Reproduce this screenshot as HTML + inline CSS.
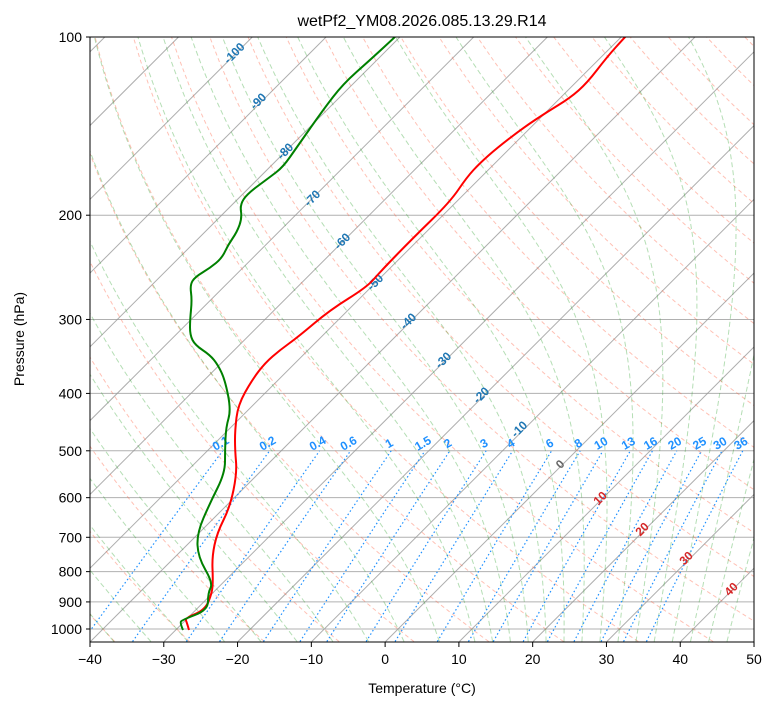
<!DOCTYPE html>
<html><head><meta charset="utf-8"><style>
html,body{margin:0;padding:0;background:#fff;}
svg{display:block;font-family:"Liberation Sans","DejaVu Sans",sans-serif;}
</style></head><body>
<svg id="s" width="775" height="708" viewBox="0 0 775 708" xmlns="http://www.w3.org/2000/svg">
<defs><clipPath id="c"><rect x="90" y="37" width="664" height="605"/></clipPath></defs>
<rect width="775" height="708" fill="#fff"/>
<g id="bg" clip-path="url(#c)"></g>
<g id="fg" clip-path="url(#c)"></g>
<rect x="90" y="37" width="664" height="605" fill="none" stroke="#000" stroke-width="1"/>
<g id="ax" font-size="14" fill="#000"></g>
<text x="422" y="26" font-size="16" text-anchor="middle">wetPf2_YM08.2026.085.13.29.R14</text>
<text x="422" y="693" font-size="14" text-anchor="middle">Temperature (°C)</text>
<text transform="translate(24,339) rotate(-90)" font-size="14" text-anchor="middle">Pressure (hPa)</text>
</svg>
<script>
var NS="http://www.w3.org/2000/svg";
function el(par,tag,a,txt){var e=document.createElementNS(NS,tag);for(var k in a)e.setAttribute(k,a[k]);if(txt!==undefined)e.textContent=txt;document.getElementById(par).appendChild(e);return e;}
function Y(p){return 37+592*(Math.log10(p)-2);}
function X(T,p){var y=Y(p);return 90+(T+40)*7.378+(642-y);}
function path(pts){return pts.map(function(q,i){return (i?"L":"M")+q[0].toFixed(1)+","+q[1].toFixed(1);}).join("");}
[100,200,300,400,500,600,700,800,900,1000].forEach(function(p){
 el("bg","line",{x1:90,x2:754,y1:Y(p),y2:Y(p),stroke:"#b0b0b0","stroke-width":1});
 el("ax","line",{x1:86,x2:90,y1:Y(p),y2:Y(p),stroke:"#000"});
 el("ax","text",{x:82,y:Y(p)+5,"text-anchor":"end"},String(p));
});
for(var T=-40;T<=50;T+=10){var x=90+(T+40)*7.378;
 el("ax","line",{x1:x,x2:x,y1:642,y2:647,stroke:"#000"});
 el("ax","text",{x:x,y:664,"text-anchor":"middle"},(T<0?"\u2212"+(-T):String(T)));}
for(var T=-140;T<=60;T+=10){el("bg","path",{d:path([[X(T,1050),Y(1050)],[X(T,100),Y(100)]]),stroke:"#999",fill:"none","stroke-width":1,opacity:0.8});}
for(var t0=-50;t0<=200;t0+=10){var pts=[];for(var p=1050;p>=100;p-=10){var Tk=(t0+273.15)*Math.pow(p/1000,0.2857);pts.push([X(Tk-273.15,p),Y(p)]);}
 el("bg","path",{d:path(pts),stroke:"#ff6347",fill:"none","stroke-width":1,"stroke-dasharray":"4,3",opacity:0.4});}
function dTdp(p,T){var Tc=T-273.15;var es=6.112*Math.exp(17.67*Tc/(Tc+243.5));var rs=0.622*es/(p-es);if(rs<0)rs=0;
 return (287.04*T+2.501e6*rs)/(p*(1005.7+2.501e6*2.501e6*rs*0.622/(287.04*T*T)));}
var mt=[];for(var t=-50;t<=10.01;t+=5)mt.push(t);for(var t=12.5;t<=45.1;t+=2.5)mt.push(t);
mt.forEach(function(t0){var pts=[];var T=t0+273.15,h;
 var T2=T;for(var q=1000;q<1050;q+=5){h=5;var k1=dTdp(q,T2),k2=dTdp(q+h/2,T2+h/2*k1),k3=dTdp(q+h/2,T2+h/2*k2),k4=dTdp(q+h,T2+h*k3);T2+=h/6*(k1+2*k2+2*k3+k4);}
 pts.push([X(T2-273.15,1050),Y(1050)]);
 var T1=T;for(var q=1000;q>=100;q-=5){pts.push([X(T1-273.15,q),Y(q)]);h=-5;var k1=dTdp(q,T1),k2=dTdp(q+h/2,T1+h/2*k1),k3=dTdp(q+h/2,T1+h/2*k2),k4=dTdp(q+h,T1+h*k3);T1+=h/6*(k1+2*k2+2*k3+k4);if(T1<150)break;}
 el("bg","path",{d:path(pts),stroke:"#2ca02c",fill:"none","stroke-width":1,"stroke-dasharray":"5,3",opacity:0.35});});
var ws=[0.1,0.2,0.4,0.6,1,1.5,2,3,4,6,8,10,13,16,20,25,30,36];
ws.forEach(function(w){var pts=[];for(var p=1050;p>=500;p-=10){var ww=w/1000;var e=ww*p/(0.622+ww);var l=Math.log(e/6.112);var Td=243.5*l/(17.67-l);pts.push([X(Td,p),Y(p)]);}
 el("bg","path",{d:path(pts),stroke:"#1e90ff",fill:"none","stroke-width":1.2,"stroke-dasharray":"1.5,2.5"});
 var q=pts[pts.length-1];
 el("bg","text",{x:0,y:0,transform:"translate("+(q[0])+","+(q[1]-4)+") rotate(-30)","font-size":"12","font-weight":"bold",fill:"#1e90ff","text-anchor":"middle"},String(w));});
var L=[[-100,237,52],[-90,261,100],[-80,288,150],[-70,315,197],[-60,345,240],[-50,378,281],[-40,411,320],[-30,446,359],[-20,484,394],[-10,522,428],[0,563,463],[10,603,497],[20,645,528],[30,689,557],[40,734,588]];
L.forEach(function(a){var c=a[0]<0?"#1f77b4":(a[0]==0?"#666":"#d62728");
 el("bg","text",{x:0,y:0,transform:"translate("+a[1]+","+(a[2]+4)+") rotate(-45)","font-size":"12","font-weight":"bold",fill:c,"text-anchor":"middle"},String(a[0]));});
var tp=[[189,630],[187,623],[185,618],[205,610],[212,593],[213,580],[212,557],[217,533],[230,507],[237,473],[235,450],[235,430],[238,405],[252,380],[265,363],[280,350],[298,337],[330,310],[367,287],[380,272],[413,238],[450,202],[467,177],[480,163],[497,148],[523,128],[547,112],[570,98],[587,83],[607,57],[625,37],[632,30]];
var dp=[[183,630],[180,623],[182,620],[208,610],[208,593],[213,583],[198,557],[197,533],[210,503],[225,473],[225,450],[226,427],[231,410],[225,380],[218,365],[210,355],[195,345],[190,335],[190,320],[192,300],[190,285],[195,277],[210,268],[222,258],[228,245],[237,232],[242,218],[240,205],[247,194],[270,177],[283,167],[297,147],[323,110],[343,84],[370,60],[395,37],[402,30]];
function smooth(pts){var d="M"+pts[0][0]+","+pts[0][1];for(var i=1;i<pts.length-1;i++){var mx=(pts[i][0]+pts[i+1][0])/2,my=(pts[i][1]+pts[i+1][1])/2;d+=" Q"+pts[i][0]+","+pts[i][1]+" "+mx+","+my;}var l=pts[pts.length-1];return d+" L"+l[0]+","+l[1];}
el("fg","path",{d:smooth(tp),stroke:"#ff0000",fill:"none","stroke-width":2});
el("fg","path",{d:smooth(dp),stroke:"#008000",fill:"none","stroke-width":2});
</script>
</body></html>
